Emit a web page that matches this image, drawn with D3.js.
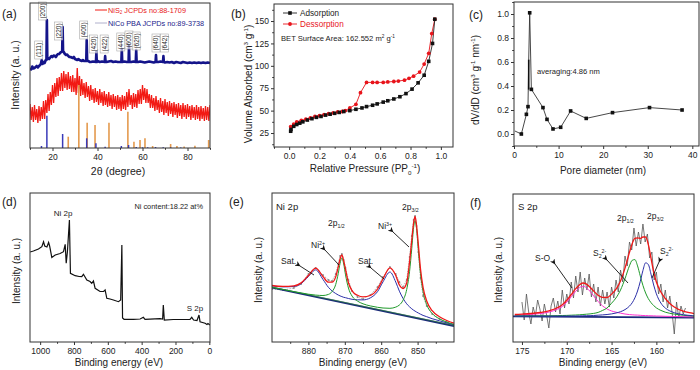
<!DOCTYPE html>
<html>
<head>
<meta charset="utf-8">
<script src="https://cdn.jsdelivr.net/npm/d3@7"></script>
<style>
body { margin: 0; background: #fff; }
</style>
</head>
<body>
<script>
const FONT = "Liberation Sans, Arial, sans-serif";

// ---------- (a) XRD ----------
const xrdTheta = d3.range(10, 91);
const nis2High = [44,41,43,39,42,41,47,48,54,56,63,65,70,71,75,77,74,76,72,73,70,80,72,69,65,66,62,63,59,60,57,59,56,57,54,56,53,54,52,53,51,53,52,56,59,53,55,54,58,59,63,60,59,54,53,50,52,48,50,47,49,46,47,45,46,44,45,43,45,43,44,42,43,41,43,41,42,40,42,41,43];
const nis2Low = [28,26,28,25,27,29,29,35,37,43,45,51,52,57,57,60,58,59,56,56,53,55,52,53,50,51,47,48,45,46,43,45,42,43,41,42,39,41,38,39,37,39,38,41,43,39,41,40,44,44,48,45,45,40,40,37,38,35,36,33,35,32,34,31,33,30,32,29,31,29,31,28,30,28,29,27,29,27,28,27,29];
const nicoXrd = [[10,80],[10.5,78.5],[11,81.5],[11.5,79.5],[12,80],[12.5,81],[13,82],[13.5,80.5],[14,82],[14.5,83],[14.8,84],[15.2,88],[15.6,84],[16,86],[16.5,85],[17,88],[17.3,88],[17.5,128],[17.7,89],[18,90],[18.5,89],[19,90.5],[19.5,92],[20,91],[20.5,92.5],[21,92],[21.5,91],[22,93],[22.5,94],[23,94],[23.5,95.5],[24,96],[24.3,97],[24.5,121],[24.7,97],[25,96],[25.5,94],[26,93],[26.5,93.5],[27,92],[27.5,91],[28,91],[29,90],[29.5,91],[30,89],[31,88],[31.5,89],[32,88],[33,87],[33.5,88],[34,87],[35,87],[35.2,108],[35.4,87],[36,87],[36.5,86],[37,86],[38,86.5],[39.3,86],[39.5,96],[39.7,86],[40,87],[41,86],[42,86.5],[43.2,86],[43.4,92],[43.6,86],[44,86],[45,86.5],[46,87],[47,86],[48,86.5],[49,86],[50,86],[50.6,86],[50.8,99],[51,86],[52,86.5],[53,86],[53.8,86],[54,103],[54.2,86],[55,86],[56,86.5],[57,86],[57.2,98],[57.4,86],[58,86],[59,86.5],[60,86],[61,85.5],[62,86],[63,86.5],[64,86],[65,85.5],[65.8,86],[66,93],[66.2,86],[67,86],[68,86.5],[69.1,86],[69.3,92],[69.5,86],[70,85.5],[71,86],[72,85.5],[73,86],[74,85],[75,86],[76,85.5],[77,85],[78,86],[79,85.5],[80,85],[81,85.5],[82,85],[83,85.5],[84,85],[85,85.5],[86,85],[87,85.5],[88,85],[89,85.5],[90,85]];
const nis2RefPos = [27.0, 31.7, 35.4, 38.9, 45.1, 53.5, 56.2, 58.9, 61.1, 64.5, 72.5, 75.3, 78.5, 83.3, 89.4];
const nis2RefInt = [11.3, 63, 25.3, 23, 25.3, 36.3, 6.3, 8, 9.7, 2, 4, 2, 1.5, 2.3, 8];
const nicoRefPos = [15.1, 17.5, 24.5, 35.2, 39.3, 43.4, 50.6, 53.8, 57.2, 60, 62.3, 65.8, 69.2, 72.5, 77];
const nicoRefInt = [2, 32.3, 14, 9.7, 4.7, 1.3, 2, 3, 1, 0.7, 0.7, 1, 0.8, 0.6, 0.6];
const hklLabels = ["(111)","(200)","(220)","(400)","(420)","(422)","(440)","(600)","(620)","(640)","(642)"];
const hklPeaks = [15.2, 17.5, 24.5, 35.2, 39.5, 43.4, 50.8, 54, 57.2, 66, 69.3];

// ---------- (b) N2 isotherm ----------
const adsP = [0.01,0.012,0.03,0.05,0.07,0.09,0.12,0.15,0.18,0.21,0.24,0.27,0.30,0.33,0.36,0.40,0.44,0.48,0.51,0.55,0.58,0.62,0.65,0.69,0.73,0.77,0.81,0.85,0.89,0.92,0.945,0.96];
const adsV = [27,29,32.5,34.5,36,37.5,39.5,41,42.5,43.5,45,46,47,48,49,50,51.5,53,54.5,56,57.5,59.5,61,63,65.5,69,74,81,89.5,105,125,152];
const desP = [0.01,0.03,0.05,0.08,0.11,0.14,0.17,0.20,0.23,0.26,0.29,0.32,0.35,0.37,0.40,0.44,0.47,0.51,0.55,0.58,0.62,0.65,0.69,0.72,0.76,0.79,0.82,0.86,0.89,0.92,0.94,0.96];
const desV = [32,35,37.5,39,40.5,42,43.5,44.5,45.5,46.5,47.5,48.5,49,50,53,57,70,81.5,81.5,81.5,81.5,82,82.5,83,84,86,88.5,93,102,114,136,152];

// ---------- (c) pore size ----------
const poreD = [0.2, 1.65, 2.78, 3.14, 3.3, 3.52, 3.9, 6.5, 7.4, 8.75, 10.47, 12.7, 16.2, 22.1, 30.4, 37.7];
const poreV = [0.025, 0.0, 0.164, 0.228, 0.62, 1.01, 0.372, 0.22, 0.122, 0.042, 0.056, 0.192, 0.13, 0.178, 0.22, 0.2];

// ---------- (d) XPS survey ----------
const surveyE = [1059,1040,1010,990,980,973,960,950,944,931,911,882,862,852,846,839,827,821,793,770,754,744,724,705,695,685,675,646,625,616,606,587,567,537,524,517,513,504,449,409,390,380,291,276,272,266,213,144,114,104,93,73,61,55,25,14,8,-4];
const surveyI = [90,91,93,95.3,100.3,96,95,99.5,96,84.5,87,88.5,90.3,97.7,78.7,90,122,68.7,66.3,65.5,65.3,67.7,62,60.5,58.7,61,53.7,50.5,50.5,52,43.7,43,42,40.3,42,97,24,22.7,22.7,23,24.7,22.7,23.3,23,37,22,22.5,22.5,22.7,24.7,22,21.5,27,20.3,18.7,17.5,18.5,17];

// ---------- (e) Ni 2p ----------
const niE = [890,887,884,882,880,878,876,874.5,873.5,872.5,871.8,871.3,870.8,870.3,869.8,869,868,866.5,865,863,861,859.5,857.6,856,855,854,853,852.2,851.6,851.1,850.7,850.3,849.8,849.2,848.5,847.5,846,844,842,840];
const niRaw = [53,52,54,58,68,74,67,62,61,68,78,86,88,82,74,62,51,45,43,47,55,65,75,68,60,55,62,85,106,122,126,116,90,64,46,36,28,23,20,17];
const niFit = [56.5,55.6,56.1,59.1,66.5,73.8,65.5,59.8,59.8,65.1,75.1,83,87,81,72.5,59.2,51.1,46.7,45.1,46.5,53,63.2,74.2,66.5,57,53.5,59,80.4,101.9,119,125.5,117,97.7,73,54.7,41,31.3,25.3,21.5,18.9];
const niSat = [56.2,55.1,55.5,58.3,65.4,72.1,62.6,54.7,51.1,48.5,47,46.1,45.4,44.7,44.3,43.5,42.7,42.2,42.1,44.1,50.4,60.2,70,59.9,50.8,43.6,38.2,35.1,33.2,31.8,30.9,30,29,27.8,26.6,25.3,23.3,21.2,19.1,17.3];
const niMain = [54.7,52.6,50.4,49.1,47.8,46.9,46.5,47.6,50.4,57.5,68.5,78.7,84.1,78,67.1,54,45.9,40.9,38.2,36.1,34.7,34,33.7,34.9,37,41.8,52.4,70.7,93.6,114.3,121.3,113.7,92.2,68.3,50.6,37.5,28.6,23.2,19.9,17.6];
const niBg = [[890, 54.4], [840, 16]];

// ---------- (f) S 2p ----------
const sE = [175.8,175,174,173,172,171,170.5,170,169.5,169,168.6,168.2,167.8,167.4,167,166.5,166,165.5,165,164.5,164,163.5,163,162.7,162.4,162.1,161.8,161.5,161.2,160.9,160.6,160.3,160,159.5,159,158.5,158,157,156,155.8];
const sFit = [27.5,27.9,28.5,29.5,31.1,34.5,37.3,41.7,47.5,53.3,57.1,59,57.9,54.8,51,46.8,44.6,44.5,47.9,52.9,61.1,73.9,89.8,98.3,103.7,104.2,103.6,105,105,97.6,83.9,70,60,50,43.5,38.5,35,30.8,28.8,28.4];
const sSO = [26.9,27.1,27.6,28.4,29.9,33,35.5,39.8,45.3,50.7,54.2,55.7,54.2,50.6,46.1,40.6,36.1,33,31,29.8,28.8,28,27.4,27.2,27,26.9,26.7,26.5,26.4,26.3,26.2,26.15,26,25.9,25.7,25.6,25.5,25.3,25.1,25.1];
const sGreen = [26.1,26.1,26.2,26.2,26.2,26.4,26.5,26.6,26.8,27,27.2,27.5,27.8,28.1,28.6,29.6,31.6,34,38.8,44.1,52,63.3,76.3,81.7,82.4,76.1,66.1,56.6,49,43.4,39.4,36.4,34.1,31.6,29.8,28.7,27.9,26.7,26,25.9];
const sBlue = [25.9,25.9,25.9,25.9,25.8,25.9,25.9,25.9,26,26,26.1,26.2,26.3,26.3,26.5,26.8,27.1,27.5,28.1,29,30.3,32.4,35.9,39.2,44.1,51,60.4,71.5,79.2,77.5,67.9,57,48.2,39,33.9,31.1,29.3,27.3,26.3,26.1];
const sBg = [[176, 25.7], [155.8, 24.4]];
const sRawE = d3.range(0, 74).map(i => 175 - i * 0.25);
const sRaw = [40,22,48,30,18,35,26,42,33,21,38,27,14,36,44,30,41,28,52,34,48,38,60,44,66,50,70,47,64,52,68,45,58,40,55,36,52,38,50,35,55,44,62,50,72,60,86,76,100,92,114,96,110,98,118,100,108,84,90,62,70,48,58,40,52,34,46,30,8,40,24,36,28,34];

// ---------- drawing ----------
const svg = d3.select("body").append("svg")
    .attr("width", 700)
    .attr("height", 370)
    .style("background", "#fff");

let clipId = 0;
function makePanel(box, xd, yd) {
    const id = "clip" + (clipId++);
    svg.append("clipPath").attr("id", id).append("rect")
        .attr("x", box.l).attr("y", box.t)
        .attr("width", box.r - box.l).attr("height", box.b - box.t);
    const g = svg.append("g");
    const plot = g.append("g").attr("clip-path", `url(#${id})`);
    const x = d3.scaleLinear().domain(xd).range([box.l, box.r]);
    const y = d3.scaleLinear().domain(yd).range([box.b, box.t]);
    return {g, plot, x, y, box};
}

function frame(p) {
    p.g.append("rect")
        .attr("x", p.box.l).attr("y", p.box.t)
        .attr("width", p.box.r - p.box.l).attr("height", p.box.b - p.box.t)
        .attr("fill", "none").attr("stroke", "#333").attr("stroke-width", 1);
}

function xAxis(p, major, minor, fmt) {
    p.g.append("g")
        .attr("transform", `translate(0,${p.box.b})`)
        .attr("color", "#333")
        .call(d3.axisBottom(p.x).tickValues(minor).tickSize(1.8).tickFormat(""))
        .call(g => g.select(".domain").remove());
    p.g.append("g")
        .attr("transform", `translate(0,${p.box.b})`)
        .attr("color", "#333")
        .call(d3.axisBottom(p.x).tickValues(major).tickSize(3).tickPadding(3).tickFormat(fmt))
        .call(g => g.select(".domain").remove())
        .selectAll("text")
        .attr("font-size", 8.5).attr("font-family", FONT).attr("fill", "#222");
}

function yAxis(p, major, minor, fmt) {
    p.g.append("g")
        .attr("transform", `translate(${p.box.l},0)`)
        .attr("color", "#333")
        .call(d3.axisLeft(p.y).tickValues(minor).tickSize(1.8).tickFormat(""))
        .call(g => g.select(".domain").remove());
    p.g.append("g")
        .attr("transform", `translate(${p.box.l},0)`)
        .attr("color", "#333")
        .call(d3.axisLeft(p.y).tickValues(major).tickSize(3).tickPadding(2).tickFormat(fmt))
        .call(g => g.select(".domain").remove())
        .selectAll("text")
        .attr("font-size", 8.5).attr("font-family", FONT).attr("fill", "#222");
}

// rich text with sup / sub parts
function label(g, x, y, parts, opt = {}) {
    const fs = opt.size || 10;
    const t = g.append("text")
        .attr("font-family", FONT)
        .attr("font-size", fs)
        .attr("fill", opt.fill || "#222")
        .attr("text-anchor", opt.anchor || "start");
    if (opt.rotate) t.attr("transform", `translate(${x},${y}) rotate(-90)`);
    else t.attr("x", x).attr("y", y);
    let shift = 0;
    parts.forEach(p => {
        const [s, m] = typeof p === "string" ? [p, ""] : p;
        const target = m === "sup" ? -fs * 0.4 : m === "sub" ? fs * 0.25 : 0;
        t.append("tspan")
            .attr("dy", target - shift)
            .attr("font-size", m ? fs * 0.62 : fs)
            .text(s);
        shift = target;
    });
    return t;
}

function arrow(g, x1, y1, x2, y2) {
    g.append("line")
        .attr("x1", x1).attr("y1", y1).attr("x2", x2).attr("y2", y2)
        .attr("stroke", "#111").attr("stroke-width", 0.9)
        .attr("marker-start", "url(#ahead)");
}

svg.append("defs").append("marker")
    .attr("id", "ahead")
    .attr("viewBox", "0 0 10 10")
    .attr("refX", 1).attr("refY", 5)
    .attr("markerWidth", 6).attr("markerHeight", 6)
    .attr("orient", "auto-start-reverse")
    .append("path").attr("d", "M0,5 L10,0 L7,5 L10,10 Z").attr("fill", "#111");

// ===== (a) =====
const pa = makePanel({l: 30, r: 210, t: 3, b: 148}, [10, 90], [0, 145]);
const zig = [];
xrdTheta.forEach((t, i) => { zig.push([t, nis2High[i]]); zig.push([t + 0.5, nis2Low[i]]); });
pa.plot.append("path")
    .datum(zig.filter(d => d[0] <= 90))
    .attr("fill", "none")
    .attr("stroke", "#f21a14")
    .attr("stroke-width", 1.3)
    .attr("d", d3.line().x(d => pa.x(d[0])).y(d => pa.y(d[1])));
pa.plot.append("path")
    .datum(nicoXrd)
    .attr("fill", "none")
    .attr("stroke", "#14148a")
    .attr("stroke-width", 2.6)
    .attr("stroke-linejoin", "round")
    .attr("d", d3.line().x(d => pa.x(d[0])).y(d => pa.y(d[1])));
pa.plot.selectAll(".nisbar")
    .data(nis2RefPos)
    .enter().append("line")
    .attr("x1", d => pa.x(d)).attr("x2", d => pa.x(d))
    .attr("y1", pa.y(0)).attr("y2", (d, i) => pa.y(nis2RefInt[i]))
    .attr("stroke", "#e49a4e").attr("stroke-width", 1.6);
pa.plot.selectAll(".nicobar")
    .data(nicoRefPos)
    .enter().append("line")
    .attr("x1", d => pa.x(d)).attr("x2", d => pa.x(d))
    .attr("y1", pa.y(0)).attr("y2", (d, i) => pa.y(nicoRefInt[i]))
    .attr("stroke", "#3a3ab8").attr("stroke-width", 1.5);

// hkl labels
const hklDx = [-3, -4.5, -4, -3, -3, -1, -1, 0, 0, 0, 1];
const hklCy = [50, 11, 31, 30, 44, 44, 42, 40, 41, 43, 43];
hklLabels.forEach((s, i) => {
    const cx = pa.x(hklPeaks[i]) + hklDx[i];
    const gg = pa.g.append("g").attr("transform", `translate(${cx},${hklCy[i]}) rotate(-90)`);
    gg.append("rect").attr("x", -9).attr("y", -4).attr("width", 18).attr("height", 8)
        .attr("fill", "#fff").attr("fill-opacity", 0.6).attr("stroke", "#aaa").attr("stroke-width", 0.6);
    gg.append("text").attr("text-anchor", "middle").attr("y", 2.4)
        .attr("font-family", FONT).attr("font-size", 6.5).attr("fill", "#222").text(s);
});

// legend
pa.g.append("line").attr("x1", 95).attr("x2", 107).attr("y1", 10).attr("y2", 10).attr("stroke", "#f21a14").attr("stroke-width", 1);
pa.g.append("line").attr("x1", 95).attr("x2", 107).attr("y1", 23).attr("y2", 23).attr("stroke", "#b0b0cc").attr("stroke-width", 1);
label(pa.g, 108, 12.5, ["NiS", ["2", "sub"], " JCPDs no:88-1709"], {size: 7.3, fill: "#e8201a"});
label(pa.g, 108, 25.5, ["NiCo PBA JCPDs no:89-3738"], {size: 7.3, fill: "#22228a"});

frame(pa);
xAxis(pa, [20, 40, 60, 80], [10, 30, 50, 70, 90], d3.format("d"));
label(pa.g, 118, 175, ["2\u03b8 (degree)"], {size: 10.5, anchor: "middle"});
label(pa.g, 19, 75, ["Intensity (a. u.)"], {size: 10.5, anchor: "middle", rotate: true});
label(svg, 2, 18, ["(a)"], {size: 12});

// ===== (b) =====
const pb = makePanel({l: 274, r: 453, t: 4, b: 147}, [-0.1, 1.08], [9.4, 169]);
const adsData = adsP.map((p, i) => [p, adsV[i]]);
const desData = desP.map((p, i) => [p, desV[i]]);
const lineB = d3.line().x(d => pb.x(d[0])).y(d => pb.y(d[1]));
pb.plot.append("path").datum(desData).attr("fill", "none").attr("stroke", "#e8141b").attr("stroke-width", 0.9).attr("d", lineB);
pb.plot.append("path").datum(adsData).attr("fill", "none").attr("stroke", "#222").attr("stroke-width", 0.9).attr("d", lineB);
pb.plot.selectAll(".des").data(desData).enter().append("circle")
    .attr("cx", d => pb.x(d[0])).attr("cy", d => pb.y(d[1])).attr("r", 1.9).attr("fill", "#e8141b");
pb.plot.selectAll(".ads").data(adsData).enter().append("rect")
    .attr("x", d => pb.x(d[0]) - 1.8).attr("y", d => pb.y(d[1]) - 1.8)
    .attr("width", 3.6).attr("height", 3.6).attr("fill", "#111");
frame(pb);
xAxis(pb, [0, 0.2, 0.4, 0.6, 0.8, 1.0], [-0.1, 0.1, 0.3, 0.5, 0.7, 0.9], d3.format(".1f"));
yAxis(pb, [25, 50, 75, 100, 125, 150], [12.5, 37.5, 62.5, 87.5, 112.5, 137.5, 162.5], d3.format("d"));
pb.g.append("line").attr("x1", 283).attr("x2", 297).attr("y1", 13).attr("y2", 13).attr("stroke", "#222").attr("stroke-width", 0.9);
pb.g.append("rect").attr("x", 288.2).attr("y", 11.2).attr("width", 3.6).attr("height", 3.6).attr("fill", "#111");
pb.g.append("line").attr("x1", 283).attr("x2", 297).attr("y1", 24).attr("y2", 24).attr("stroke", "#e8141b").attr("stroke-width", 0.9);
pb.g.append("circle").attr("cx", 290).attr("cy", 24).attr("r", 1.9).attr("fill", "#e8141b");
label(pb.g, 300, 16, ["Adsorption"], {size: 8.2, fill: "#222"});
label(pb.g, 300, 27, ["Dessorption"], {size: 8.2, fill: "#e8141b"});
label(pb.g, 281, 41, ["BET Surface Area: 162.552 m", ["2", "sup"], " g", ["-1", "sup"]], {size: 7.6});
label(pb.g, 365, 172, ["Relative Pressure (PP", ["0", "sub"], ["-1", "sup"], ")"], {size: 10, anchor: "middle"});
label(pb.g, 252, 84, ["Volume Absorbed (cm", ["3", "sup"], " g", ["-1", "sup"], ")"], {size: 10, anchor: "middle", rotate: true});
label(svg, 231, 18, ["(b)"], {size: 12});

// ===== (c) =====
const pc = makePanel({l: 514, r: 699, t: 2, b: 146}, [0, 41.5], [-0.1, 1.1]);
const poreData = poreD.map((d, i) => [d, poreV[i]]);
pc.plot.append("path").datum(poreData).attr("fill", "none").attr("stroke", "#333").attr("stroke-width", 0.9)
    .attr("d", d3.line().x(d => pc.x(d[0])).y(d => pc.y(d[1])));
pc.plot.append("line").attr("x1", pc.x(3.3)).attr("x2", pc.x(3.3)).attr("y1", pc.y(0.37)).attr("y2", pc.y(0.62))
    .attr("stroke", "#111").attr("stroke-width", 1.6);
pc.plot.selectAll(".pm").data(poreData.filter((d, i) => i !== 0 && i !== 4)).enter().append("rect")
    .attr("x", d => pc.x(d[0]) - 1.8).attr("y", d => pc.y(d[1]) - 1.8)
    .attr("width", 3.6).attr("height", 3.6).attr("fill", "#111");
frame(pc);
xAxis(pc, [0, 10, 20, 30, 40], [5, 15, 25, 35], d3.format("d"));
yAxis(pc, [0, 0.2, 0.4, 0.6, 0.8, 1.0], [-0.1, 0.1, 0.3, 0.5, 0.7, 0.9, 1.1], d3.format(".1f"));
label(pc.g, 537, 74, ["averaging:4.86 nm"], {size: 7.6});
label(pc.g, 603, 174, ["Pore diameter (nm)"], {size: 10, anchor: "middle"});
label(pc.g, 479, 80, ["dV/dD (cm", ["3", "sup"], " g", ["-1", "sup"], " nm", ["-1", "sup"], ")"], {size: 10, anchor: "middle", rotate: true});
label(svg, 469, 19, ["(c)"], {size: 12});

// ===== (d) =====
const pd = makePanel({l: 30, r: 210, t: 193, b: 342}, [1060, -4], [0, 149]);
pd.plot.append("path").datum(surveyE.map((e, i) => [e, surveyI[i]]))
    .attr("fill", "none").attr("stroke", "#111").attr("stroke-width", 1.2)
    .attr("d", d3.line().x(d => pd.x(d[0])).y(d => pd.y(d[1])));
frame(pd);
xAxis(pd, [1000, 800, 600, 400, 200, 0], [900, 700, 500, 300, 100], d3.format("d"));
label(pd.g, 63, 216, ["Ni 2p"], {size: 8, anchor: "middle"});
label(pd.g, 203, 209, ["Ni content:18.22 at%"], {size: 7.4, anchor: "end"});
label(pd.g, 195, 311, ["S 2p"], {size: 8, anchor: "middle"});
label(pd.g, 119, 366, ["Binding energy (eV)"], {size: 10, anchor: "middle"});
label(pd.g, 20, 271, ["Intensity (a. u.)"], {size: 10, anchor: "middle", rotate: true});
label(svg, 2, 206, ["(d)"], {size: 12});

// ===== (e) =====
const pe = makePanel({l: 272, r: 454, t: 193, b: 342}, [890, 840], [0, 149]);
const curveE = arr => d3.line().curve(d3.curveMonotoneX).x((d, i) => pe.x(niE[i])).y(d => pe.y(d))(arr);
pe.plot.append("path").datum(niRaw).attr("fill", "none").attr("stroke", "#999").attr("stroke-width", 0.8)
    .attr("stroke-dasharray", "1.5,1")
    .attr("d", d3.line().x((d, i) => pe.x(niE[i])).y(d => pe.y(d)));
pe.plot.selectAll(".raw").data(niRaw).enter().append("circle")
    .attr("cx", (d, i) => pe.x(niE[i])).attr("cy", d => pe.y(d)).attr("r", 0.9).attr("fill", "#888");
pe.plot.append("path").datum(niBg).attr("stroke", "#1b2a7a").attr("stroke-width", 1.8)
    .attr("d", d3.line().x(d => pe.x(d[0])).y(d => pe.y(d[1])));
pe.plot.append("path").datum(niBg).attr("stroke", "#2f8f2f").attr("stroke-width", 0.6)
    .attr("d", d3.line().x(d => pe.x(d[0])).y(d => pe.y(d[1]) - 0.6));
pe.plot.append("path").attr("fill", "none").attr("stroke", "#2b2fa8").attr("stroke-width", 1).attr("d", curveE(niSat));
pe.plot.append("path").attr("fill", "none").attr("stroke", "#1f9a2a").attr("stroke-width", 1).attr("d", curveE(niMain));
pe.plot.append("path").attr("fill", "none").attr("stroke", "#f01818").attr("stroke-width", 1.3).attr("d", curveE(niFit));
frame(pe);
xAxis(pe, [880, 870, 860, 850], [885, 875, 865, 855, 845], d3.format("d"));
label(pe.g, 276, 210, ["Ni 2p"], {size: 9.5});
label(pe.g, 402, 210, ["2p", ["3/2", "sub"]], {size: 8.5});
label(pe.g, 328, 226, ["2p", ["1/2", "sub"]], {size: 8.5});
label(pe.g, 378, 229, ["Ni", ["3+", "sup"]], {size: 8.5});
label(pe.g, 311, 248, ["Ni", ["2+", "sup"]], {size: 8.5});
label(pe.g, 281, 264, ["Sat."], {size: 8.5});
label(pe.g, 358, 264, ["Sat."], {size: 8.5});
arrow(pe.g, 300, 266, 314, 275);
arrow(pe.g, 325, 250, 339, 265);
arrow(pe.g, 371, 268, 384, 279);
arrow(pe.g, 393, 232, 409, 247);
label(pe.g, 363, 366, ["Binding energy (eV)"], {size: 10, anchor: "middle"});
label(pe.g, 262, 270, ["Intensity (a. u.)"], {size: 10, anchor: "middle", rotate: true});
label(svg, 229, 206, ["(e)"], {size: 12});

// ===== (f) =====
const pf = makePanel({l: 513, r: 694, t: 194, b: 342}, [176, 155.8], [0, 148]);
const curveF = arr => d3.line().curve(d3.curveMonotoneX).x((d, i) => pf.x(sE[i])).y(d => pf.y(d))(arr);
pf.plot.append("path").datum(sRaw).attr("fill", "none").attr("stroke", "#555").attr("stroke-width", 0.8)
    .attr("d", d3.line().x((d, i) => pf.x(sRawE[i])).y(d => pf.y(d)));
pf.plot.append("path").datum(sBg).attr("stroke", "#1b2a7a").attr("stroke-width", 1.8)
    .attr("d", d3.line().x(d => pf.x(d[0])).y(d => pf.y(d[1])));
pf.plot.append("path").attr("fill", "none").attr("stroke", "#ff30d0").attr("stroke-width", 1).attr("d", curveF(sSO));
pf.plot.append("path").attr("fill", "none").attr("stroke", "#1f9a2a").attr("stroke-width", 1).attr("d", curveF(sGreen));
pf.plot.append("path").attr("fill", "none").attr("stroke", "#2b2fa8").attr("stroke-width", 1).attr("d", curveF(sBlue));
pf.plot.append("path").attr("fill", "none").attr("stroke", "#f01818").attr("stroke-width", 1.3).attr("d", curveF(sFit));
frame(pf);
xAxis(pf, [175, 170, 165, 160], [172.5, 167.5, 162.5, 157.5], d3.format("d"));
label(pf.g, 518, 210, ["S 2p"], {size: 9.5});
label(pf.g, 535, 261, ["S-O"], {size: 8.5});
label(pf.g, 593, 256, ["S", ["2", "sub"], ["2-", "sup"]], {size: 8.5});
label(pf.g, 660, 254, ["S", ["2", "sub"], ["2-", "sup"]], {size: 8.5});
label(pf.g, 617, 221, ["2p", ["1/2", "sub"]], {size: 8.5});
label(pf.g, 647, 219, ["2p", ["3/2", "sub"]], {size: 8.5});
arrow(pf.g, 555, 264, 572, 288);
arrow(pf.g, 607, 260, 628, 283);
arrow(pf.g, 659, 262, 652, 278);
label(pf.g, 603, 366, ["Binding energy (eV)"], {size: 10, anchor: "middle"});
label(pf.g, 502, 270, ["Intensity (a. u.)"], {size: 10, anchor: "middle", rotate: true});
label(svg, 470, 207, ["(f)"], {size: 12});
</script>
</body>
</html>
